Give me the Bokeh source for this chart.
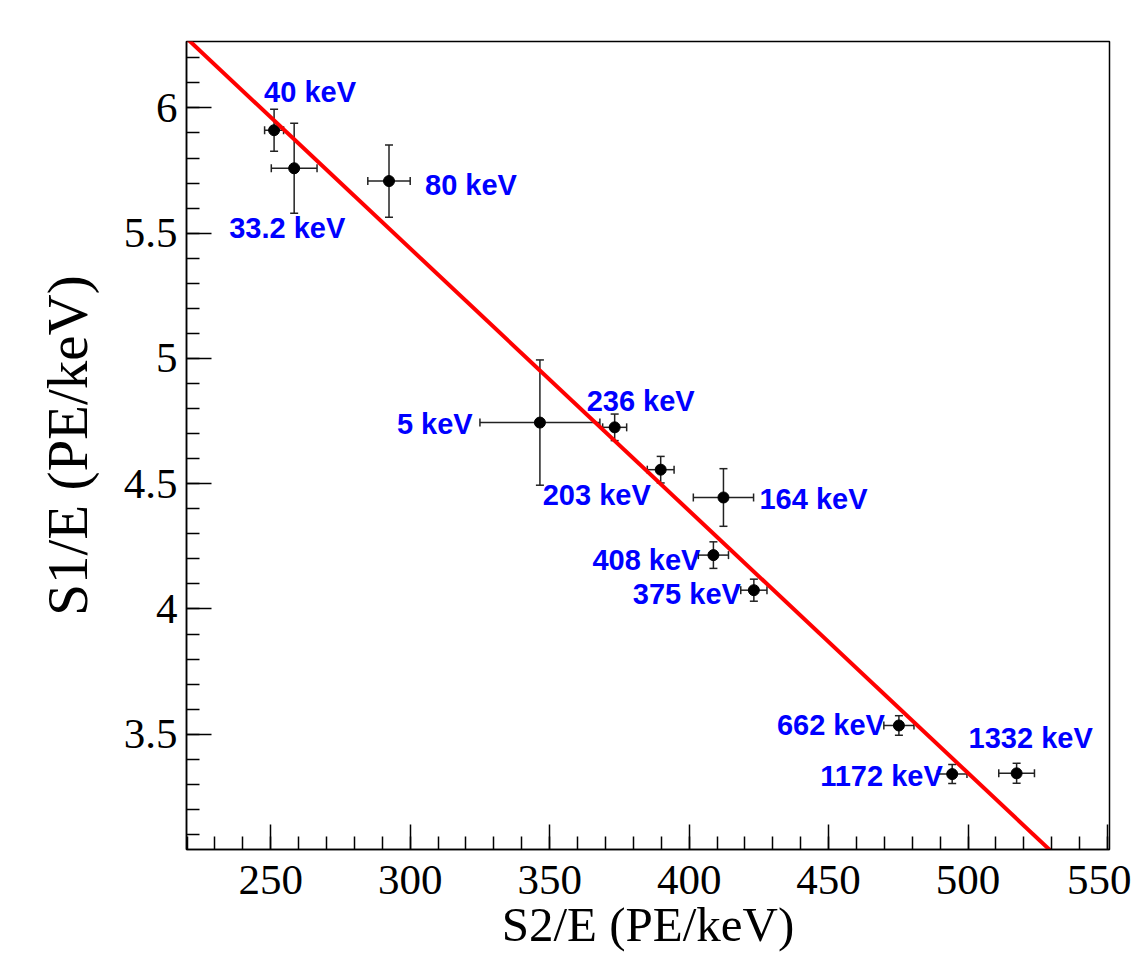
from bokeh.plotting import figure
from bokeh.models import (ColumnDataSource, Whisker, TeeHead, FixedTicker,
                          CustomJSTickFormatter, Range1d)
from bokeh.core.properties import value
from bokeh.embed import file_html
from bokeh.resources import INLINE

# ---- data ----
labels = ["40 keV", "33.2 keV", "80 keV", "5 keV", "236 keV", "203 keV",
          "164 keV", "408 keV", "375 keV", "662 keV", "1172 keV", "1332 keV"]
s2 = [251.2, 258.4, 292.4, 346.5, 373.3, 389.8, 412.3, 408.7, 423.2, 475.2, 494.3, 517.4]
s2_err = [3.4, 8.2, 7.6, 21.5, 4.3, 4.8, 10.8, 5.4, 4.7, 5.4, 5.3, 6.4]
s1 = [5.911, 5.759, 5.708, 4.744, 4.725, 4.556, 4.445, 4.215, 4.075, 3.535, 3.341, 3.344]
s1_err = [0.084, 0.18, 0.144, 0.25, 0.053, 0.053, 0.115, 0.053, 0.044, 0.039, 0.038, 0.04]

fit_slope = -0.01047
fit_intercept = 8.58

x_ticks = [250, 300, 350, 400, 450, 500, 550]
y_ticks = [3.5, 4.0, 4.5, 5.0, 5.5, 6.0]

# label placement (screen-pixel offsets from each point; styling only)
label_dx = [-10, -65, 36, -143, -28, -118, 36, -121, -121, -122, -132, -48]
label_dy = [-38, 60, 4, 1, -26, 25, 2, 5, 4, 0, 2, -35]

src = ColumnDataSource(dict(
    x=s2, y=s1, label=labels,
    xl=[a - b for a, b in zip(s2, s2_err)], xu=[a + b for a, b in zip(s2, s2_err)],
    yl=[a - b for a, b in zip(s1, s1_err)], yu=[a + b for a, b in zip(s1, s1_err)],
    dx=label_dx, dy=label_dy,
))

p = figure(width=1131, height=956, output_backend="svg", toolbar_location=None,
           x_range=Range1d(219.8, 550.7), y_range=Range1d(3.04, 6.265),
           min_border_left=186, min_border_right=22, min_border_top=41,
           min_border_bottom=107)
p.background_fill_color = "white"
p.border_fill_color = "white"
p.grid.visible = False
p.outline_line_color = "black"
p.outline_line_width = 1.5

for ax in (p.xaxis[0], p.yaxis[0]):
    ax.axis_line_color = "black"
    ax.axis_line_width = 1.5
    ax.major_tick_in = 25
    ax.major_tick_out = 0
    ax.minor_tick_in = 13
    ax.minor_tick_out = 0
    ax.major_tick_line_color = "black"
    ax.minor_tick_line_color = "black"
    ax.major_tick_line_width = 1.5
    ax.minor_tick_line_width = 1.5
    ax.major_label_text_font = "Liberation Serif"
    ax.major_label_text_font_size = "43px"
    ax.major_label_text_color = "black"
    ax.axis_label_text_font = "Liberation Serif"
    ax.axis_label_text_font_style = "normal"
    ax.axis_label_text_color = "black"

p.xaxis.ticker = FixedTicker(ticks=x_ticks, minor_ticks=list(range(220, 551, 10)))
p.yaxis.ticker = FixedTicker(ticks=y_ticks,
                             minor_ticks=[round(3.1 + 0.1 * i, 1) for i in range(32)])
fmt = CustomJSTickFormatter(code="return String(Math.round(tick*10)/10);")
p.xaxis.formatter = fmt
p.yaxis.formatter = fmt

p.xaxis.axis_label = "S2/E (PE/keV)"
p.xaxis.axis_label_text_font_size = "49px"
p.xaxis.major_label_standoff = 16
p.xaxis.axis_label_standoff = 0
p.yaxis.axis_label = "S1/E (PE/keV)"
p.yaxis.axis_label_text_font_size = "57px"
p.yaxis.major_label_standoff = 9
p.yaxis.axis_label_standoff = 22

# error bars
bar_color = "#222222"
p.add_layout(Whisker(source=src, base="x", lower="yl", upper="yu", dimension="height",
                     line_color=bar_color, line_width=1.5,
                     upper_head=TeeHead(size=8, line_color=bar_color, line_width=1.5),
                     lower_head=TeeHead(size=8, line_color=bar_color, line_width=1.5)))
p.add_layout(Whisker(source=src, base="y", lower="xl", upper="xu", dimension="width",
                     line_color=bar_color, line_width=1.5,
                     upper_head=TeeHead(size=8, line_color=bar_color, line_width=1.5),
                     lower_head=TeeHead(size=8, line_color=bar_color, line_width=1.5)))

p.scatter("x", "y", source=src, size=11, color="black")

# fit line
fx = [200, 560]
fy = [fit_intercept + fit_slope * v for v in fx]
p.line(fx, fy, line_color="#ff0000", line_width=4)

p.text("x", "y", text="label", source=src, x_offset="dx", y_offset="dy",
       text_font=value("Liberation Sans"), text_font_style="bold",
       text_font_size="29px", text_color="#0000ff",
       text_align="left", text_baseline="middle")

open("out.html", "w").write(file_html(p, INLINE))
